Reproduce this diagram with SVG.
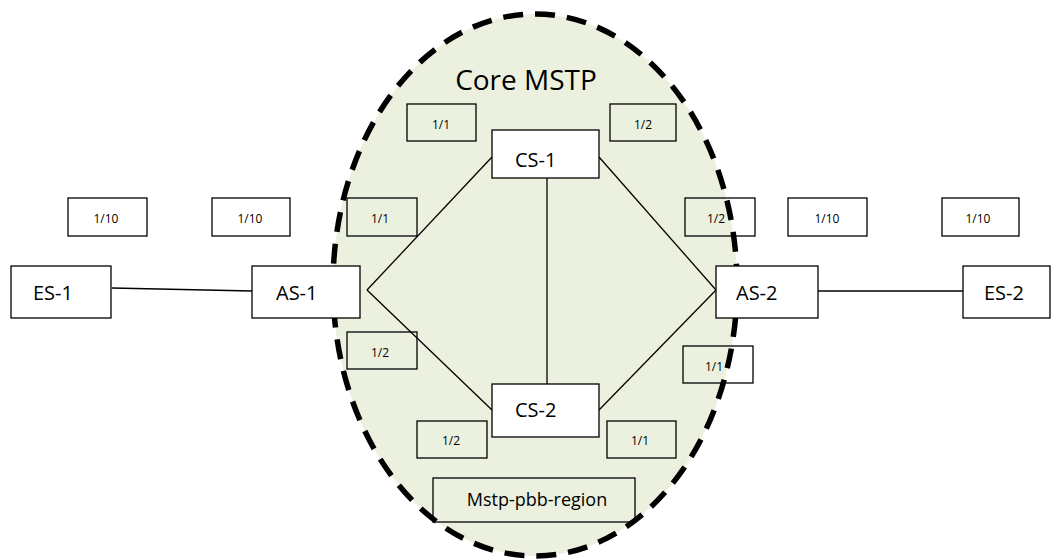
<svg xmlns="http://www.w3.org/2000/svg" width="1052" height="560" viewBox="0 0 1052 560">
<style>
.node{fill:#fff;stroke:#000;stroke-width:1.3}
.lbl{fill:none;stroke:#000;stroke-width:1.3}
.nt{font-family:"Open Sans","Liberation Sans",sans-serif;font-size:20px;fill:#000}
.st{font-family:"Open Sans","Liberation Sans",sans-serif;font-size:12px;fill:#000;text-anchor:middle}
.conn line{stroke:#000;stroke-width:1.3}
</style>
<rect width="1052" height="560" fill="#fff"/>
<g id="region">
<ellipse cx="535" cy="285" rx="202" ry="271" fill="#ebf1de"/>
<text x="526" y="90" font-family="Open Sans,Liberation Sans,sans-serif" font-size="28" text-anchor="middle" fill="#000">Core MSTP</text>
</g>
<g class="conn" id="connectors">
<line x1="112" y1="288" x2="252" y2="291"/>
<line x1="818" y1="291" x2="963" y2="291"/>
<line x1="367" y1="290" x2="492" y2="157"/>
<line x1="367" y1="290" x2="492" y2="410"/>
<line x1="599" y1="157" x2="716" y2="290"/>
<line x1="599" y1="410" x2="716" y2="290"/>
<line x1="547" y1="178" x2="547" y2="384"/>
</g>
<g id="port-labels">
<g id="p1"><rect class="lbl" x="68" y="198" width="79" height="38"/><text class="st" x="106" y="223">1/10</text></g>
<g id="p2"><rect class="lbl" x="212" y="198" width="78" height="38"/><text class="st" x="250" y="223">1/10</text></g>
<g id="p3"><rect class="lbl" x="347" y="198" width="70" height="38"/><text class="st" x="380" y="223">1/1</text></g>
<g id="p4"><rect class="lbl" x="347" y="332" width="70" height="37"/><text class="st" x="380" y="357">1/2</text></g>
<g id="p5"><rect class="lbl" x="407" y="104" width="69" height="37"/><text class="st" x="441" y="129">1/1</text></g>
<g id="p6"><rect class="lbl" x="610" y="104" width="66" height="37"/><text class="st" x="643" y="129">1/2</text></g>
<g id="p7"><rect class="lbl" x="685" y="198" width="70" height="38"/><text class="st" x="716" y="223">1/2</text></g>
<g id="p8"><rect class="lbl" x="788" y="198" width="79" height="38"/><text class="st" x="827" y="223">1/10</text></g>
<g id="p9"><rect class="lbl" x="942" y="198" width="77" height="38"/><text class="st" x="978" y="223">1/10</text></g>
<g id="p10"><rect class="lbl" x="683" y="346" width="70" height="37"/><text class="st" x="714" y="371">1/1</text></g>
<g id="p11"><rect class="lbl" x="417" y="421" width="70" height="37"/><text class="st" x="451" y="445">1/2</text></g>
<g id="p12"><rect class="lbl" x="607" y="421" width="69" height="37"/><text class="st" x="640" y="445">1/1</text></g>
<g id="region-name"><rect class="lbl" x="433" y="478" width="202" height="44"/><text x="537" y="506" font-family="Open Sans,Liberation Sans,sans-serif" font-size="18" text-anchor="middle" fill="#000">Mstp-pbb-region</text></g>
</g>
<ellipse cx="535" cy="285" rx="202" ry="271" fill="none" stroke="#000" stroke-width="5.5" stroke-dasharray="20 12"/>
<g id="ES-1"><rect class="node" x="11" y="266" width="100" height="52"/><text class="nt" x="33" y="300">ES-1</text></g>
<g id="AS-1"><rect class="node" x="252" y="266" width="108" height="52"/><text class="nt" x="276" y="300">AS-1</text></g>
<g id="CS-1"><rect class="node" x="492" y="130" width="107" height="48"/><text class="nt" x="515" y="167">CS-1</text></g>
<g id="CS-2"><rect class="node" x="492" y="384" width="107" height="53"/><text class="nt" x="515" y="417">CS-2</text></g>
<g id="AS-2"><rect class="node" x="716" y="266" width="102" height="52"/><text class="nt" x="736" y="300">AS-2</text></g>
<g id="ES-2"><rect class="node" x="963" y="266" width="87" height="52"/><text class="nt" x="984" y="300">ES-2</text></g>
</svg>
